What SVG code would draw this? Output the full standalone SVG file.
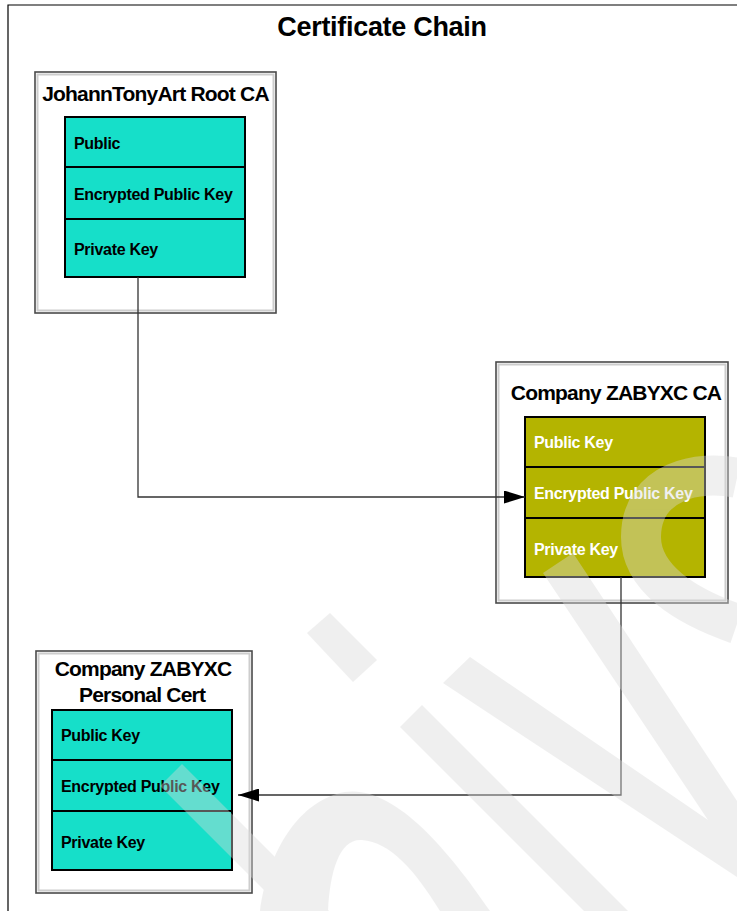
<svg xmlns="http://www.w3.org/2000/svg" width="737" height="911" viewBox="0 0 737 911">
  <style>
    .frame { fill: none; stroke: #000; stroke-width: 1.2; }
    .box-outer { fill: #fff; stroke: #4a4a4a; stroke-width: 1.6; }
    .box-inner { fill: none; stroke: #cdcdcd; stroke-width: 2; }
    .tbl { stroke: #000; stroke-width: 2; }
    .teal { fill: #16dfc9; }
    .olive { fill: #b4b400; }
    .div { stroke: #000; stroke-width: 2; }
    text { font-family: "Liberation Sans", Arial, sans-serif; font-weight: bold; }
    .title { font-size: 27px; letter-spacing: -0.3px; text-anchor: middle; fill: #000; }
    .ntitle { font-size: 21px; letter-spacing: -0.8px; text-anchor: middle; fill: #000; }
    .row { font-size: 16px; letter-spacing: -0.3px; fill: #000; }
    .row-w { font-size: 16px; letter-spacing: -0.3px; fill: #fff; }
    .conn { fill: none; stroke: #333; stroke-width: 1.3; }
  </style>
  <defs>
    <marker id="arrow" markerUnits="userSpaceOnUse" markerWidth="22" markerHeight="13" refX="21" refY="6.5" orient="auto">
      <path d="M0,0 L21,6.5 L0,13 z" fill="#000"/>
    </marker>
  </defs>

  <rect x="0" y="0" width="737" height="911" fill="#fff"/>
  <!-- page frame -->
  <path class="frame" d="M8,911 V5 H737"/>

  <text class="title" x="382" y="36">Certificate Chain</text>

  <!-- Root CA -->
  <g id="root-ca">
    <rect class="box-outer" x="35" y="72" width="241" height="241"/>
    <rect class="box-inner" x="37.5" y="74.5" width="236" height="236"/>
    <text class="ntitle" x="155.5" y="101">JohannTonyArt Root CA</text>
    <rect class="tbl teal" x="65" y="117" width="180" height="160"/>
    <line class="div" x1="65" y1="167" x2="245" y2="167"/>
    <line class="div" x1="65" y1="219" x2="245" y2="219"/>
    <text class="row" x="74" y="149">Public</text>
    <text class="row" x="74" y="200">Encrypted Public Key</text>
    <text class="row" x="74" y="255">Private Key</text>
  </g>

  <!-- Intermediate CA -->
  <g id="company-ca">
    <rect class="box-outer" x="496" y="362" width="232" height="241"/>
    <rect class="box-inner" x="498.5" y="364.5" width="227" height="236"/>
    <text class="ntitle" x="616" y="400">Company ZABYXC CA</text>
    <rect class="tbl olive" x="525" y="417" width="180" height="160"/>
    <line class="div" x1="525" y1="467" x2="705" y2="467"/>
    <line class="div" x1="525" y1="518" x2="705" y2="518"/>
    <text class="row-w" x="534" y="448">Public Key</text>
    <text class="row-w" x="534" y="499">Encrypted Public Key</text>
    <text class="row-w" x="534" y="555">Private Key</text>
  </g>

  <!-- Personal certificate -->
  <g id="personal-cert">
    <rect class="box-outer" x="36" y="651" width="216" height="242"/>
    <rect class="box-inner" x="38.5" y="653.5" width="211" height="237"/>
    <text class="ntitle" x="143" y="676">Company ZABYXC</text>
    <text class="ntitle" x="142" y="702">Personal Cert</text>
    <rect class="tbl teal" x="52" y="710" width="180" height="160"/>
    <line class="div" x1="52" y1="760" x2="232" y2="760"/>
    <line class="div" x1="52" y1="811" x2="232" y2="811"/>
    <text class="row" x="61" y="741">Public Key</text>
    <text class="row" x="61" y="792">Encrypted Public Key</text>
    <text class="row" x="61" y="848">Private Key</text>
  </g>

  <!-- connectors -->
  <g id="connectors">
    <path class="conn" d="M138,277 V497 H525" marker-end="url(#arrow)"/>
    <path class="conn" d="M621,577 V795 H238" marker-end="url(#arrow)"/>
  </g>

  <!-- background watermark -->
  <g id="watermark" opacity="0.4" fill="#d9d9d9" stroke="none">
    <polygon points="307,633 330,613 377,660 353,682"/>
    <polygon points="400,727 422,705 628,911 584,911"/>
    <polygon points="160,786 182,764 329,911 285,911"/>
    <polygon points="543,573 573,553 737,801 737,877 443,683 470,657 708,820"/>
    <path d="M260,911 C268,850 300,800 345,792 C392,785 445,845 490,911 L440,911 C415,870 390,842 362,840 C340,838 330,870 328,911 Z"/>
    <path d="M737,478 C700,470 641,480 641,537 C641,578 685,606 737,624" fill="none" stroke="#d9d9d9" stroke-width="40"/>
  </g>
</svg>
